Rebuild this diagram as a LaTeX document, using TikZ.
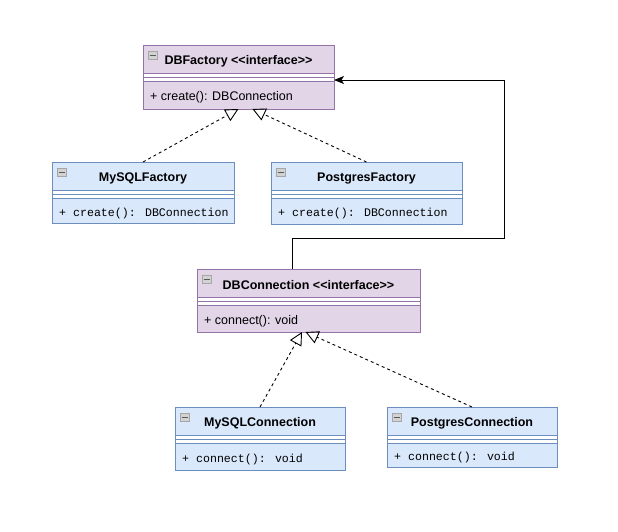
\documentclass[tikz,border=0pt]{standalone}
\usepackage{fontspec}
\setmainfont{Liberation Sans}
\newfontfamily\codefont{Liberation Mono}
\usetikzlibrary{arrows.meta}
\definecolor{pfill}{HTML}{E1D5E7}
\definecolor{pline}{HTML}{9673A6}
\definecolor{bfill}{HTML}{DAE8FC}
\definecolor{bline}{HTML}{6C8EBF}
\tikzset{
  clsbox/.style={draw=none, inner sep=0pt, outer sep=0pt, anchor=north west},
  clstitle/.style={font=\fontsize{12.5}{14}\selectfont\bfseries, inner sep=0pt},
  member/.style={anchor=west, inner sep=0pt},
  realize/.style={dash pattern=on 3pt off 3pt, line width=0.9pt, -{Triangle[open,length=13pt,width=13pt,line width=0.9pt]}},
  assoc/.style={line width=1pt, -{Stealth[length=10pt,width=8pt,inset=2.5pt]}},
}
\newcommand{\umlcls}[9]{%
  \node[clsbox, fill=#6, minimum width=#4pt, minimum height=#5pt] (#1) at (#2,#3) {};
  \fill[white] ({#2},{#3+28}) rectangle ({#2+#4},{#3+36});
  \draw[#7, line width=1pt] ({#2},{#3+28}) -- ({#2+#4},{#3+28})
        ({#2},{#3+32}) -- ({#2+#4},{#3+32})
        ({#2},{#3+36}) -- ({#2+#4},{#3+36});
  \draw[#7, line width=1pt] ({#2},{#3}) rectangle ({#2+#4},{#3+#5});
  \draw[gray!70, fill=gray!35, line width=0.7pt] ({#2+5},{#3+6.5}) rectangle ({#2+14},{#3+14.5});
  \draw[black!65, line width=1.4pt] ({#2+6.5},{#3+10.5}) -- ({#2+12.5},{#3+10.5});
  \node[clstitle] (#1-t) at ({#2+#4/2},{#3+16.5}) {#8};
  \node[member] (#1-m) at ({#2+7},{#3+38.5+(#5-36)/2}) {#9};
}
\begin{document}
\begin{tikzpicture}[x=1pt,y=-1pt]
  \useasboundingbox (0,0) rectangle (618,531);
  \fill[white] (0,0) rectangle (618,531);

  \umlcls{dbf}{143}{45}{191}{64}{pfill}{pline}{DBFactory <{}<interface>{}>}{\fontsize{12.5}{14}\selectfont + create(): DBConnection}
  \umlcls{msf}{52}{162}{182}{61}{bfill}{bline}{MySQLFactory}{\codefont\fontsize{11.6}{13}\selectfont + create(): DBConnection}
  \umlcls{psf}{271}{162}{191}{62}{bfill}{bline}{PostgresFactory}{\codefont\fontsize{11.6}{13}\selectfont + create(): DBConnection}
  \umlcls{dbc}{197}{269}{223}{63}{pfill}{pline}{DBConnection <{}<interface>{}>}{\fontsize{12.5}{14}\selectfont + connect(): void}
  \umlcls{msc}{175}{407}{170}{63}{bfill}{bline}{MySQLConnection}{\codefont\fontsize{11.6}{13}\selectfont + connect(): void}
  \umlcls{psc}{387}{407}{170}{60}{bfill}{bline}{PostgresConnection}{\codefont\fontsize{11.6}{13}\selectfont + connect(): void}

  \draw[realize] (msf.north) -- (dbf.south);
  \draw[realize] (psf.north) -- ([xshift=14pt]dbf.south);
  \draw[realize] (msc.north) -- ([xshift=-6.5pt]dbc.south);
  \draw[realize] (psc.north) -- ([xshift=-3pt]dbc.south);

  \coordinate (loopA) at (504,238);
  \draw[assoc] ([xshift=95pt]dbc.north west) |- (loopA) |- ([yshift=-3pt]dbf.east);
\end{tikzpicture}
\end{document}
